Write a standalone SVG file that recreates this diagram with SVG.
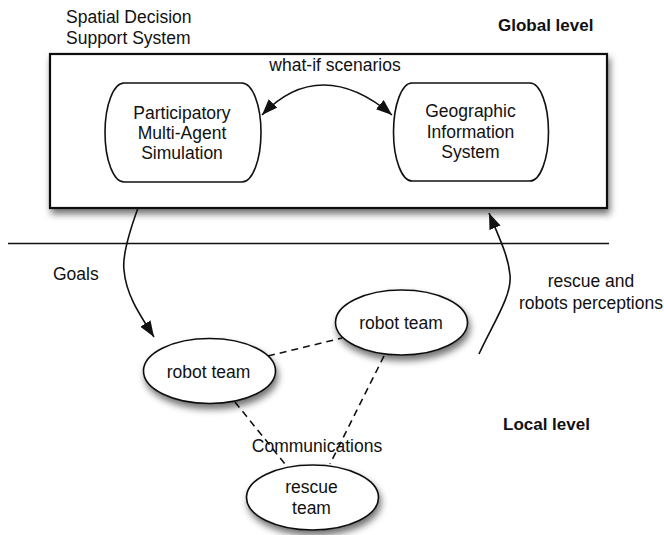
<svg xmlns="http://www.w3.org/2000/svg" width="664" height="535" viewBox="0 0 664 535">
  <style>
    .t { font-family: "Liberation Sans", Arial, Helvetica, sans-serif; font-size: 17.5px; fill: #111; }
    .b { font-family: "Liberation Sans", Arial, Helvetica, sans-serif; font-size: 17px; font-weight: bold; fill: #111; }
    .box { fill: #fff; stroke: #111; stroke-width: 2.2; }
    .node { fill: #fff; stroke: #111; stroke-width: 1.6; }
    .arr { fill: none; stroke: #111; stroke-width: 1.6; }
    .dash { fill: none; stroke: #111; stroke-width: 1.6; stroke-dasharray: 7 5; }
  </style>
  <defs>
    <filter id="sh" x="-20%" y="-30%" width="140%" height="170%">
      <feDropShadow dx="2" dy="5" stdDeviation="3.5" flood-color="#000" flood-opacity="0.55"/>
    </filter>
    <marker id="ah" viewBox="0 0 16 12" refX="16" refY="6" markerWidth="16" markerHeight="12" markerUnits="userSpaceOnUse" orient="auto-start-reverse">
      <path d="M0,0 L16,6 L0,12 Z" fill="#111"/>
    </marker>
  </defs>

  <g id="labels">
    <text class="t" x="66" y="23">Spatial Decision</text>
    <text class="t" x="66" y="44">Support System</text>
    <text class="b" x="498" y="31">Global level</text>
    <text class="b" x="503" y="430">Local level</text>
  </g>

  <g id="sdss">
    <rect class="box" x="50" y="54" width="557" height="154" filter="url(#sh)"/>
    <text class="t" x="335" y="71" text-anchor="middle">what-if scenarios</text>
  </g>

  <g id="pmas">
    <path class="node" d="M124,83 H242 A19,49.5 0 0 1 242,182 H124 A19,49.5 0 0 1 124,83 Z"/>
    <text class="t" x="182" y="119" text-anchor="middle">Participatory</text>
    <text class="t" x="182" y="139" text-anchor="middle">Multi-Agent</text>
    <text class="t" x="182" y="159" text-anchor="middle">Simulation</text>
  </g>

  <g id="gis">
    <path class="node" d="M412,83 H530 A18.5,49 0 0 1 530,181 H412 A18.5,49 0 0 1 412,83 Z"/>
    <text class="t" x="470.5" y="117" text-anchor="middle">Geographic</text>
    <text class="t" x="470.5" y="138" text-anchor="middle">Information</text>
    <text class="t" x="470.5" y="158" text-anchor="middle">System</text>
  </g>

  <g id="divider">
    <line x1="8" y1="243.5" x2="609" y2="243.5" stroke="#111" stroke-width="1.6"/>
  </g>

  <g id="connectors">
    <path class="arr" d="M262,115 C300,75 345,75 392,115" marker-start="url(#ah)" marker-end="url(#ah)"/>
    <path class="arr" d="M138,208 C130,230 122,255 124,270 C126,295 140,315 154,337" marker-end="url(#ah)"/>
    <path class="arr" d="M479,354 C495,320 512,295 510,275 C508,255 500,240 489,213" marker-end="url(#ah)"/>
    <line class="dash" x1="268" y1="356" x2="342" y2="338"/>
    <line class="dash" x1="384" y1="356" x2="330" y2="464"/>
    <line class="dash" x1="235" y1="402" x2="285" y2="464"/>
  </g>

  <g id="edge-labels">
    <text class="t" x="53" y="280">Goals</text>
    <text class="t" x="591" y="287" text-anchor="middle">rescue and</text>
    <text class="t" x="591" y="309" text-anchor="middle">robots perceptions</text>
    <text class="t" x="317" y="452" text-anchor="middle">Communications</text>
  </g>

  <g id="robot-team-1">
    <ellipse class="node" cx="209.5" cy="371" rx="66" ry="32.5" filter="url(#sh)"/>
    <text class="t" x="208.5" y="378" text-anchor="middle">robot team</text>
  </g>

  <g id="robot-team-2">
    <ellipse class="node" cx="401.5" cy="322.5" rx="66" ry="32.5" filter="url(#sh)"/>
    <text class="t" x="401" y="329" text-anchor="middle">robot team</text>
  </g>

  <g id="rescue-team">
    <ellipse class="node" cx="312.5" cy="497.5" rx="66" ry="32.5" filter="url(#sh)"/>
    <text class="t" x="311.5" y="493" text-anchor="middle">rescue</text>
    <text class="t" x="311.5" y="514" text-anchor="middle">team</text>
  </g>
</svg>
